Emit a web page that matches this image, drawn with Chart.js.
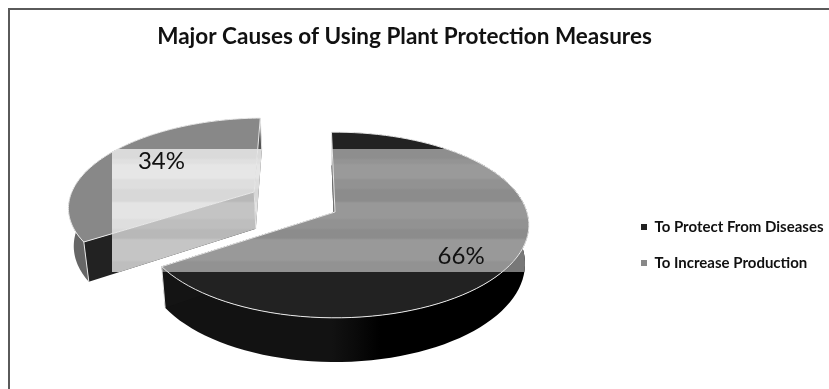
<!DOCTYPE html>
<html>
<head>
<meta charset="utf-8">
<title>Major Causes of Using Plant Protection Measures</title>
<script src="https://cdn.jsdelivr.net/npm/chart.js@4"></script>
<style>
    html, body { margin: 0; padding: 0; background: #fff; }
    canvas { display: block; }
</style>
</head>
<body>
<canvas id="pieChart" width="829" height="389"></canvas>
<script>
const categories = ['To Protect From Diseases', 'To Increase Production'];
const shares = [66, 34];
const legendColors = ['#222222', '#888888'];

// How far each slice is pulled out, and its size, in pie radii
const explode = [0, 0.49];
const sliceRadius = [1, 0.98];

// Percentage label spots, in pie radii from the centre of the disc
const labelSpots = [[0.615, 0.455], [-0.98, -0.6]];

// Look of the disc on the page
const pieBox = { cx: 335, cy: 212, radius: 192 };
const TILT = 0.474;
const PERSPECTIVE = 0.14;
const DEPTH = 38;
const FLOOR_SHRINK = 0.98;

// The horizontal strip where the shading turns over
const strip = { left: 112, right: 532, top: 149, bottom: 272 };
const stripBands = [[149, 2], [160, 8], [165, 14], [180, 6], [190, 0], [203, 12], [220, 6], [230, 0], [240, 13], [262, 6], [272, 6]];

const sliceLooks = [
    {
        top: '#222222', topBase: 0x8c,
        rim: ['#121212', '#0a0a0a', '#000000'], rimBase: 0x78,
        startWall: '#1e1e1e', startBase: 0x70,
        endWall: '#141414', endBase: 0x70
    },
    {
        top: '#888888', topBase: 0xd8,
        rim: ['#666666', '#777777', '#777777'], rimBase: 0xb0,
        startWall: '#222222', startBase: 0xb8,
        endWall: '#555555', endBase: 0xd8
    }
];

function project(px, py, drop) {
    const w = 1 - PERSPECTIVE * py;
    return {
        x: pieBox.cx + pieBox.radius * px / w,
        y: pieBox.cy + pieBox.radius * TILT * py / w + (drop || 0) / w
    };
}

function gray(v) {
    return `rgb(${v},${v},${v})`;
}

// Vertical shading with soft steps between the bands
function bandGradient(ctx, base) {
    const span = strip.bottom - strip.top;
    const grad = ctx.createLinearGradient(0, strip.top, 0, strip.bottom);
    stripBands.forEach((band, i) => {
        const next = stripBands[i + 1];
        if (!next) return;
        grad.addColorStop((band[0] - strip.top) / span, gray(base + band[1]));
        grad.addColorStop((next[0] - 2 - strip.top) / span, gray(base + band[1]));
    });
    return grad;
}

function tracePath(ctx, pts) {
    ctx.beginPath();
    pts.forEach((p, i) => (i ? ctx.lineTo(p.x, p.y) : ctx.moveTo(p.x, p.y)));
    ctx.closePath();
}

// Fill a shape with its plain colour, then repaint the part inside the strip
function paintFace(ctx, pts, fill, stripFill) {
    tracePath(ctx, pts);
    ctx.fillStyle = fill;
    ctx.fill();
    ctx.save();
    ctx.beginPath();
    ctx.rect(strip.left, strip.top, strip.right - strip.left, strip.bottom - strip.top);
    ctx.clip();
    tracePath(ctx, pts);
    ctx.fillStyle = stripFill;
    ctx.fill();
    ctx.restore();
}

function drawSlice(ctx, arc, index) {
    const look = sliceLooks[index];
    const mid = (arc.startAngle + arc.endAngle) / 2;
    const ox = Math.cos(mid) * explode[index];
    const oy = Math.sin(mid) * explode[index];
    const r = sliceRadius[index];
    const steps = 90;

    const edge = [];
    for (let i = 0; i <= steps; i++) {
        const a = arc.startAngle + (arc.endAngle - arc.startAngle) * i / steps;
        edge.push([ox + r * Math.cos(a), oy + r * Math.sin(a)]);
    }
    const apex = [ox, oy];
    const first = edge[0];
    const last = edge[steps];
    const upper = p => project(p[0], p[1], 0);
    const lower = p => {
        // the underside sits a little further away
        const q = project(p[0], p[1], DEPTH);
        q.x = pieBox.cx + (q.x - pieBox.cx) * FLOOR_SHRINK;
        return q;
    };

    // Rim
    const rimFill = ctx.createLinearGradient(project(first[0], first[1]).x, 0, project(0.2, 1).x, 0);
    rimFill.addColorStop(0, look.rim[0]);
    rimFill.addColorStop(0.5, look.rim[1]);
    rimFill.addColorStop(1, look.rim[2]);
    const rim = edge.map(upper).concat(edge.slice().reverse().map(lower));
    paintFace(ctx, rim, rimFill, gray(look.rimBase));

    // The two cut walls
    const startWall = [upper(apex), upper(first), lower(first), lower(apex)];
    const endWall = [upper(apex), upper(last), lower(last), lower(apex)];
    paintFace(ctx, endWall, look.endWall, bandGradient(ctx, look.endBase));
    paintFace(ctx, startWall, look.startWall, bandGradient(ctx, look.startBase));

    ctx.lineWidth = 1;
    ctx.strokeStyle = '#e4e4e4';
    [first, last, apex].forEach(p => {
        const a = upper(p);
        const b = lower(p);
        ctx.beginPath();
        ctx.moveTo(a.x, a.y);
        ctx.lineTo(b.x, b.y);
        ctx.stroke();
    });

    // Top of the slice
    const face = [upper(apex)].concat(edge.map(upper));
    paintFace(ctx, face, look.top, bandGradient(ctx, look.topBase));
    tracePath(ctx, face);
    ctx.strokeStyle = '#e8e8e8';
    ctx.stroke();
}

const pie3d = {
    id: 'pie3d',
    beforeDraw(chart) {
        // Only the left and top chart border show
        const ctx = chart.ctx;
        ctx.save();
        ctx.fillStyle = '#5a5a5a';
        ctx.fillRect(8, 8, chart.width - 8, 2);
        ctx.fillRect(8, 8, 2, chart.height - 8);
        ctx.restore();
    },
    afterLayout(chart) {
        const r = pieBox.radius;
        chart.chartArea = {
            left: pieBox.cx - r, right: pieBox.cx + r,
            top: pieBox.cy - r, bottom: pieBox.cy + r,
            width: 2 * r, height: 2 * r
        };
        chart.titleBlock.left = 0;
        chart.titleBlock.right = 809;
        const legend = chart.legend;
        legend.left = 620;
        legend.right = 829;
        legend.top = 198.5;
        legend.bottom = 389;
    },
    beforeDatasetDraw(chart, args) {
        const ctx = chart.ctx;
        ctx.save();
        args.meta.data.forEach((arc, i) => drawSlice(ctx, arc, i));
        ctx.restore();
        return false;
    },
    afterDatasetsDraw(chart) {
        const ctx = chart.ctx;
        ctx.save();
        ctx.font = '24px Lato';
        ctx.fillStyle = '#111';
        ctx.textAlign = 'center';
        ctx.textBaseline = 'middle';
        shares.forEach((share, i) => {
            const p = project(labelSpots[i][0], labelSpots[i][1]);
            ctx.fillText(share + '%', p.x, p.y);
        });
        ctx.restore();
    }
};

new Chart(document.getElementById('pieChart').getContext('2d'), {
    type: 'pie',
    data: {
        labels: categories,
        datasets: [{
            data: shares,
            backgroundColor: legendColors,
            borderWidth: 0,
            clip: false
        }]
    },
    options: {
        responsive: false,
        animation: false,
        rotation: -1.2,
        plugins: {
            title: {
                display: true,
                text: 'Major Causes of Using Plant Protection Measures',
                color: '#111',
                font: { family: 'Lato', size: 22.5, weight: 'bold' },
                padding: { top: 23, bottom: 0 }
            },
            legend: {
                position: 'right',
                align: 'start',
                labels: {
                    boxWidth: 6,
                    boxHeight: 6,
                    padding: 21,
                    color: '#111',
                    font: { family: 'Lato', size: 15, weight: 'bold' }
                }
            },
            tooltip: { enabled: false }
        }
    },
    plugins: [pie3d]
});
</script>
</body>
</html>
